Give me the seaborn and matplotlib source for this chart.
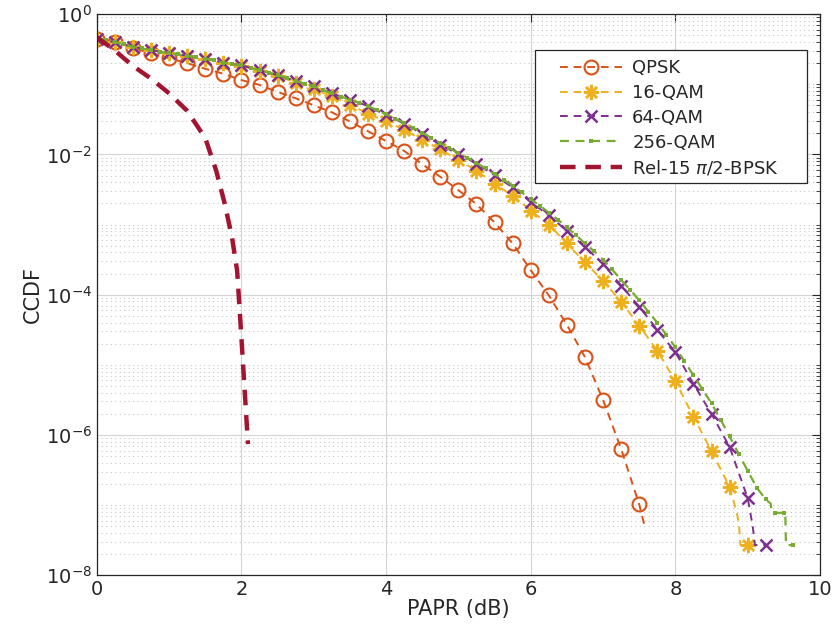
import matplotlib
matplotlib.use("Agg")
import matplotlib.pyplot as plt
import matplotlib.ticker as mticker
from matplotlib.patches import Rectangle
import numpy as np
import pandas as pd
import seaborn as sns

# PAPR (dB) sample points and log10(CCDF)
qpsk_x = [0, 0.25, 0.5, 0.75, 1.0, 1.25, 1.5, 1.75, 2.0, 2.25, 2.5, 2.75, 3.0, 3.25, 3.5,
          3.75, 4.0, 4.25, 4.5, 4.75, 5.0, 5.25, 5.5, 5.75, 6.0, 6.25, 6.5, 6.75, 7.0,
          7.25, 7.5, 7.57]
qpsk_log = [-0.35, -0.40, -0.48, -0.56, -0.63, -0.70, -0.78, -0.85, -0.94, -1.01, -1.11,
            -1.20, -1.30, -1.40, -1.53, -1.67, -1.81, -1.95, -2.14, -2.32, -2.51, -2.71,
            -2.97, -3.27, -3.65, -4.01, -4.43, -4.89, -5.50, -6.20, -6.99, -7.28]

qam16_x = [0, 0.25, 0.5, 0.75, 1.0, 1.25, 1.5, 1.75, 2.0, 2.25, 2.5, 2.75, 3.0, 3.25, 3.5,
           3.75, 4.0, 4.25, 4.5, 4.75, 5.0, 5.25, 5.5, 5.75, 6.0, 6.25, 6.5, 6.75, 7.0,
           7.25, 7.5, 7.75, 8.0, 8.25, 8.5, 8.75, 8.85, 8.88, 8.9, 9.0]
qam16_log = [-0.35, -0.40, -0.467, -0.515, -0.555, -0.60, -0.64, -0.70, -0.74, -0.81,
             -0.885, -0.975, -1.07, -1.17, -1.29, -1.42, -1.53, -1.65, -1.79, -1.93, -2.08,
             -2.23, -2.42, -2.59, -2.80, -3.00, -3.27, -3.54, -3.80, -4.10, -4.44, -4.80,
             -5.23, -5.74, -6.23, -6.74, -7.11, -7.28, -7.57, -7.57]

qam64_x = [0, 0.25, 0.5, 0.75, 1.0, 1.25, 1.5, 1.75, 2.0, 2.25, 2.5, 2.75, 3.0, 3.25, 3.5,
           3.75, 4.0, 4.25, 4.5, 4.75, 5.0, 5.25, 5.5, 5.75, 6.0, 6.25, 6.5, 6.75, 7.0,
           7.25, 7.5, 7.75, 8.0, 8.25, 8.5, 8.75, 9.0, 9.07, 9.1, 9.25]
qam64_log = [-0.35, -0.40, -0.467, -0.514, -0.553, -0.596, -0.633, -0.69, -0.73, -0.80,
             -0.87, -0.955, -1.03, -1.13, -1.22, -1.31, -1.44, -1.56, -1.71, -1.86, -2.00,
             -2.13, -2.30, -2.47, -2.68, -2.87, -3.09, -3.32, -3.56, -3.87, -4.17, -4.50,
             -4.82, -5.27, -5.70, -6.17, -6.90, -7.30, -7.57, -7.57]

qam256_x = [0, 0.125, 0.25, 0.375, 0.5, 0.625, 0.75, 0.875, 1.0, 1.125, 1.25, 1.375, 1.5,
            1.625, 1.75, 1.875, 2.0, 2.125, 2.25, 2.375, 2.5, 2.625, 2.75, 2.875, 3.0,
            3.125, 3.25, 3.375, 3.5, 3.625, 3.75, 3.875, 4.0, 4.125, 4.25, 4.375, 4.5,
            4.625, 4.75, 4.875, 5.0, 5.125, 5.25, 5.375, 5.5, 5.625, 5.75, 5.875, 6.0,
            6.125, 6.25, 6.375, 6.5, 6.625, 6.75, 6.875, 7.0, 7.125, 7.25, 7.375, 7.5,
            7.625, 7.75, 7.875, 8.0, 8.125, 8.25, 8.375, 8.5, 8.625, 8.75, 8.875, 9.0,
            9.125, 9.25, 9.32, 9.33, 9.375, 9.5, 9.52, 9.53, 9.625]
qam256_log = [-0.35, -0.37, -0.40, -0.43, -0.465, -0.49, -0.514, -0.535, -0.553, -0.575,
              -0.596, -0.615, -0.633, -0.66, -0.69, -0.71, -0.73, -0.765, -0.80, -0.835,
              -0.87, -0.91, -0.955, -0.99, -1.03, -1.08, -1.13, -1.175, -1.22, -1.265,
              -1.31, -1.37, -1.43, -1.49, -1.55, -1.62, -1.69, -1.765, -1.84, -1.91, -1.98,
              -2.05, -2.12, -2.20, -2.28, -2.36, -2.45, -2.54, -2.64, -2.73, -2.83, -2.93,
              -3.04, -3.15, -3.27, -3.38, -3.50, -3.64, -3.79, -3.93, -4.08, -4.24, -4.40,
              -4.57, -4.75, -4.95, -5.15, -5.35, -5.55, -5.78, -6.02, -6.27, -6.51, -6.75,
              -6.92, -6.98, -7.11, -7.11, -7.11, -7.11, -7.57, -7.57]

bpsk_x = [0, 0.25, 0.5, 0.75, 1.0, 1.25, 1.5, 1.65, 1.77, 1.87, 1.94, 1.97, 2.0, 2.03,
          2.06, 2.09]
bpsk_log = [-0.33, -0.52, -0.74, -0.92, -1.13, -1.38, -1.77, -2.23, -2.71, -3.19, -3.66,
            -4.14, -4.63, -5.13, -5.63, -6.13]


def marker_idx(xs, step):
    xs = np.asarray(xs)
    return [i for i, v in enumerate(xs) if abs(v / step - round(v / step)) < 1e-6]


def main() -> None:
    sns.set_style("white")
    plt.rcParams["font.family"] = ["DejaVu Sans"]

    fig, ax = plt.subplots(figsize=(8.35, 6.42), dpi=100)
    fig.subplots_adjust(left=0.116, right=0.982, bottom=0.104, top=0.978)

    series = [
        ("QPSK", qpsk_x, qpsk_log, "#D95319",
         dict(marker="o", markersize=10, markerfacecolor="none", markeredgewidth=1.5,
              linestyle=(0, (4, 3)), linewidth=1.4), 0.25),
        ("16-QAM", qam16_x, qam16_log, "#EDB120",
         dict(marker=(8, 2, 0), markersize=11, markeredgewidth=1.8,
              linestyle=(0, (4, 3)), linewidth=1.4), 0.25),
        ("64-QAM", qam64_x, qam64_log, "#7E2F8E",
         dict(marker="x", markersize=9, markeredgewidth=1.8,
              linestyle=(0, (4, 3)), linewidth=1.4), 0.25),
        ("256-QAM", qam256_x, qam256_log, "#77AC30",
         dict(marker="s", markersize=3.2, markeredgewidth=0,
              linestyle=(0, (4, 3)), linewidth=1.6), 0.125),
    ]

    for name, xs, logs, color, style, step in series:
        df = pd.DataFrame({"papr": xs, "ccdf": 10.0 ** np.asarray(logs)})
        sns.lineplot(data=df, x="papr", y="ccdf", ax=ax, color=color, label=name,
                     sort=False, estimator=None, markevery=marker_idx(xs, step),
                     markeredgecolor=color, **style)

    df_b = pd.DataFrame({"papr": bpsk_x, "ccdf": 10.0 ** np.asarray(bpsk_log)})
    sns.lineplot(data=df_b, x="papr", y="ccdf", ax=ax, color="#A2142F",
                 label=r"Rel-15 $\pi$/2-BPSK", sort=False, estimator=None,
                 linewidth=3.2, linestyle=(0, (3.5, 2.2)))

    ax.set_yscale("log")
    ax.set_xlim(0, 10)
    ax.set_ylim(1e-8, 1)
    ax.set_xticks([0, 2, 4, 6, 8, 10])
    ax.yaxis.set_major_locator(mticker.FixedLocator([1e-8, 1e-6, 1e-4, 1e-2, 1e0]))
    ax.yaxis.set_major_formatter(mticker.LogFormatterSciNotation())
    ax.yaxis.set_minor_locator(mticker.LogLocator(base=10, subs=np.arange(1, 10), numticks=100))
    ax.yaxis.set_minor_formatter(mticker.NullFormatter())

    ax.grid(True, which="major", color="#d4d4d4", linewidth=0.8, linestyle="-")
    ax.grid(True, which="minor", axis="y", color="#c8c8c8", linewidth=0.8, linestyle=(0, (1, 3)))
    ax.set_axisbelow(True)

    for sp in ax.spines.values():
        sp.set_color("#262626")
        sp.set_linewidth(0.9)
    ax.tick_params(which="both", direction="in", top=True, right=True, colors="#262626",
                   labelsize=14)
    ax.tick_params(which="major", length=6)
    ax.tick_params(which="minor", length=3)

    ax.set_xlabel("PAPR (dB)", fontsize=15, color="#262626", labelpad=0)
    ax.set_ylabel("CCDF", fontsize=15, color="#262626", labelpad=2)

    # legend frame drawn separately so its padding matches the reference box
    ax.add_patch(Rectangle((0.606, 0.699), 0.376, 0.237, transform=ax.transAxes,
                           facecolor="white", edgecolor="#262626", linewidth=0.9, zorder=4))
    leg = ax.legend(loc="upper left", bbox_to_anchor=(0.6404, 0.92), fontsize=13,
                    handlelength=3.45, handletextpad=0.55, frameon=False, borderpad=0,
                    borderaxespad=0, labelspacing=0.38)
    leg.set_zorder(5)

    fig.savefig("out.png", dpi=100)
    plt.close(fig)


if __name__ == "__main__":
    main()
